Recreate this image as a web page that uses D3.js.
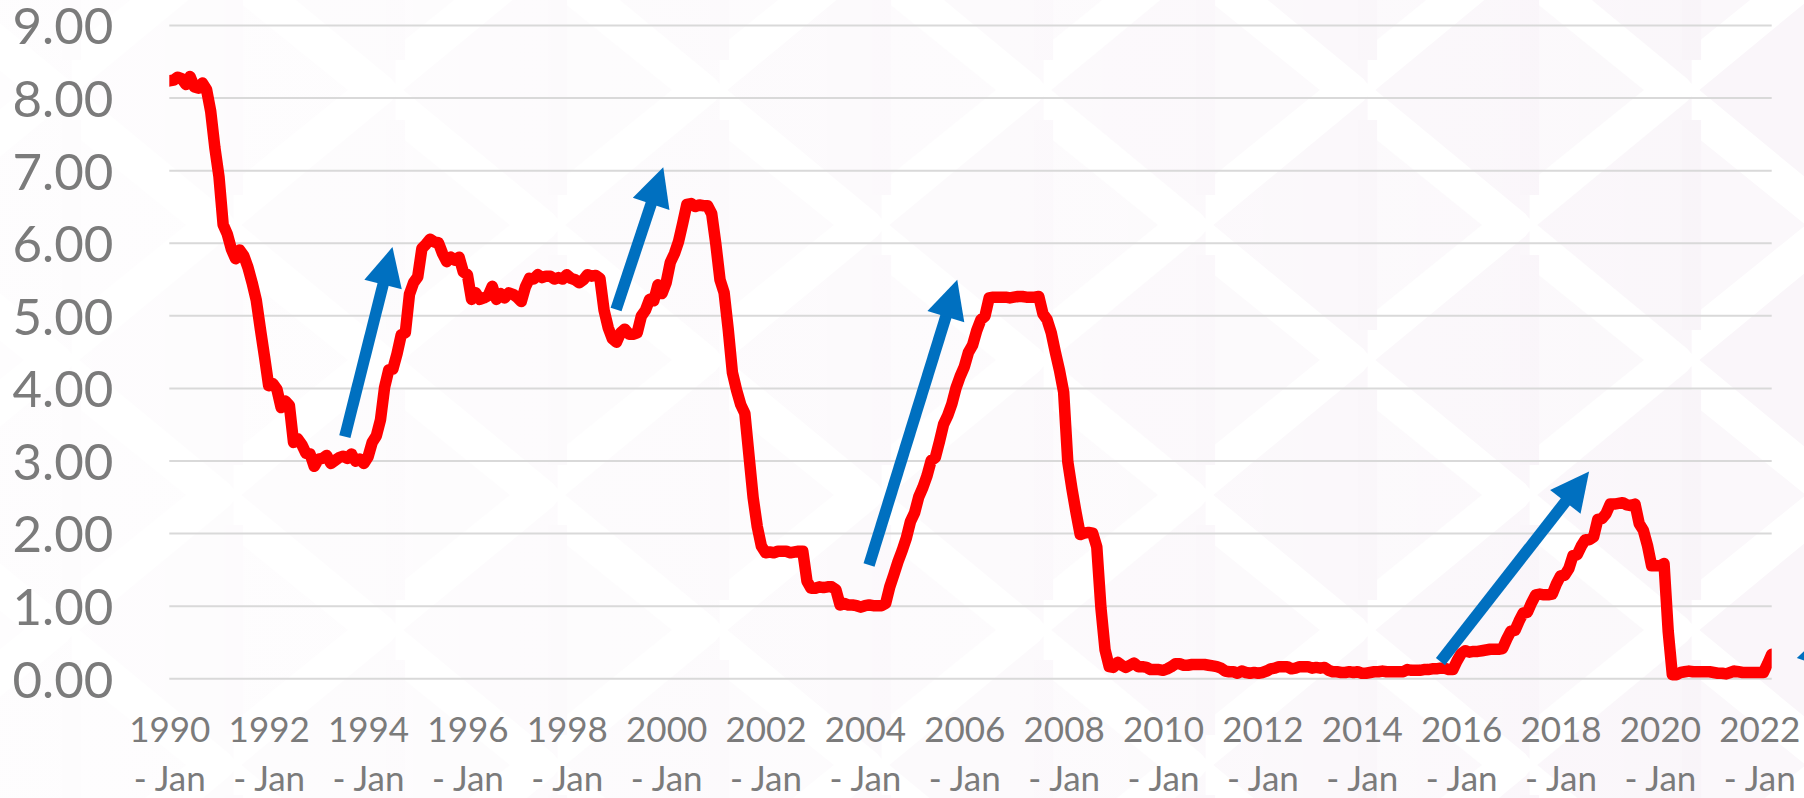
<!DOCTYPE html>
<html>
<head>
<meta charset="utf-8">
<script src="https://cdn.jsdelivr.net/npm/d3@7"></script>
<style>
html,body{margin:0;padding:0;background:#ffffff;}
svg{display:block;}
</style>
</head>
<body>
<svg id="chart" width="1804" height="798"></svg>
<script>
// ---------------- DATA ----------------
const startYear = 1990;           // first category: 1990 - Jan (monthly)
const monthLabel = "- Jan";
// monthly rate (%), 1990-01 .. 2022-04
const rate = [
  8.23, 8.24, 8.28, 8.26, 8.18, 8.29, 8.15, 8.13, 8.20, 8.11, 7.81, 7.31, // 1990
  6.91, 6.25, 6.12, 5.91, 5.78, 5.90, 5.82, 5.66, 5.45, 5.21, 4.81, 4.43, // 1991
  4.03, 4.06, 3.98, 3.73, 3.82, 3.76, 3.25, 3.30, 3.22, 3.10, 3.09, 2.92, // 1992
  3.02, 3.03, 3.07, 2.96, 3.00, 3.04, 3.06, 3.03, 3.09, 2.99, 3.02, 2.96, // 1993
  3.05, 3.25, 3.34, 3.56, 4.01, 4.25, 4.26, 4.47, 4.73, 4.76, 5.29, 5.45, // 1994
  5.53, 5.92, 5.98, 6.05, 6.01, 6.00, 5.85, 5.74, 5.80, 5.76, 5.80, 5.60, // 1995
  5.56, 5.22, 5.31, 5.22, 5.24, 5.27, 5.40, 5.22, 5.30, 5.24, 5.31, 5.29, // 1996
  5.25, 5.19, 5.39, 5.51, 5.50, 5.56, 5.52, 5.54, 5.54, 5.50, 5.52, 5.50, // 1997
  5.56, 5.51, 5.49, 5.45, 5.49, 5.56, 5.54, 5.55, 5.51, 5.07, 4.83, 4.68, // 1998
  4.63, 4.76, 4.81, 4.74, 4.74, 4.76, 4.99, 5.07, 5.22, 5.20, 5.42, 5.30, // 1999
  5.45, 5.73, 5.85, 6.02, 6.27, 6.53, 6.54, 6.50, 6.52, 6.51, 6.51, 6.40, // 2000
  5.98, 5.49, 5.31, 4.80, 4.21, 3.97, 3.77, 3.65, 3.07, 2.49, 2.09, 1.82, // 2001
  1.73, 1.74, 1.73, 1.75, 1.75, 1.75, 1.73, 1.74, 1.75, 1.75, 1.34, 1.24, // 2002
  1.24, 1.26, 1.25, 1.26, 1.26, 1.22, 1.01, 1.03, 1.01, 1.01, 1.00, 0.98, // 2003
  1.00, 1.01, 1.00, 1.00, 1.00, 1.03, 1.26, 1.43, 1.61, 1.76, 1.93, 2.16, // 2004
  2.28, 2.50, 2.63, 2.79, 3.00, 3.04, 3.26, 3.50, 3.62, 3.78, 4.00, 4.16, // 2005
  4.29, 4.49, 4.59, 4.79, 4.94, 4.99, 5.24, 5.25, 5.25, 5.25, 5.25, 5.24, // 2006
  5.25, 5.26, 5.26, 5.25, 5.25, 5.25, 5.26, 5.02, 4.94, 4.76, 4.49, 4.24, // 2007
  3.94, 2.98, 2.61, 2.28, 1.98, 2.00, 2.01, 2.00, 1.81, 0.97, 0.39, 0.16, // 2008
  0.15, 0.22, 0.18, 0.15, 0.18, 0.21, 0.16, 0.16, 0.15, 0.12, 0.12, 0.12, // 2009
  0.11, 0.13, 0.16, 0.20, 0.20, 0.18, 0.18, 0.19, 0.19, 0.19, 0.19, 0.18, // 2010
  0.17, 0.16, 0.14, 0.10, 0.09, 0.09, 0.07, 0.10, 0.08, 0.07, 0.08, 0.07, // 2011
  0.08, 0.10, 0.13, 0.14, 0.16, 0.16, 0.16, 0.13, 0.14, 0.16, 0.16, 0.16, // 2012
  0.14, 0.15, 0.14, 0.15, 0.11, 0.09, 0.09, 0.08, 0.08, 0.09, 0.08, 0.09, // 2013
  0.07, 0.07, 0.08, 0.09, 0.09, 0.10, 0.09, 0.09, 0.09, 0.09, 0.09, 0.12, // 2014
  0.11, 0.11, 0.11, 0.12, 0.12, 0.13, 0.13, 0.14, 0.14, 0.12, 0.12, 0.24, // 2015
  0.34, 0.38, 0.36, 0.37, 0.37, 0.38, 0.39, 0.40, 0.40, 0.40, 0.41, 0.54, // 2016
  0.65, 0.66, 0.79, 0.90, 0.91, 1.04, 1.15, 1.16, 1.15, 1.15, 1.16, 1.30, // 2017
  1.41, 1.42, 1.51, 1.69, 1.70, 1.82, 1.91, 1.91, 1.95, 2.19, 2.20, 2.27, // 2018
  2.40, 2.40, 2.41, 2.42, 2.39, 2.38, 2.40, 2.13, 2.04, 1.83, 1.55, 1.55, // 2019
  1.55, 1.58, 0.65, 0.05, 0.05, 0.08, 0.09, 0.10, 0.09, 0.09, 0.09, 0.09, // 2020
  0.09, 0.08, 0.07, 0.07, 0.06, 0.08, 0.10, 0.09, 0.08, 0.08, 0.08, 0.08, // 2021
  0.08, 0.08, 0.20, 0.33                                                  // 2022
];
const yTicks = [0, 1, 2, 3, 4, 5, 6, 7, 8, 9];
const xLabelEvery = 24; // months between category labels

// annotation arrows: [from month index, from value, to month index, to value]
const arrowFromIdx = [42.4, 107.9, 169.0, 307.0, 396.2];
const arrowFromVal = [3.33, 5.08, 1.56, 0.23, -0.01];
const arrowToIdx   = [53.9, 119.3, 190.3, 342.9, 400.6];
const arrowToVal   = [5.94, 7.04, 5.49, 2.85, 0.69];

// ---------------- LAYOUT / STYLE ----------------
const W = 1804, H = 798;
const plot = {left: 169.3, right: 1771.7, top: 25, bottom: 678.3};
const textColor = "#7b7b7b";
const fontFamily = "Lato, 'Open Sans', sans-serif";

const svg = d3.select("#chart");
const defs = svg.append("defs");

// background decoration (faint lattice of diamonds, fading towards the left)
const bg = svg.append("g");
bg.append("rect").attr("width", W).attr("height", H).attr("fill", "#ffffff");
const tileW = 324, tileH = 270, x0 = 71.6, yc0 = 225;
const centers = [];
for (let m = -2; m <= 14; m++) {
  for (let n = -3; n <= 8; n++) {
    if (((m + n) % 2 + 2) % 2 === 0) centers.push([x0 + m * tileW / 2, yc0 + n * tileH / 2]);
  }
}
const hw = tileW / 2, hh = tileH / 2, g = 6;
bg.selectAll("polygon.l").data(centers).join("polygon")
  .attr("points", d => [[d[0], d[1] - hh + g], [d[0] - 4, d[1] - hh + g + 5], [d[0] - hw + g * 1.3, d[1]], [d[0] - 4, d[1] + hh - g - 5], [d[0], d[1] + hh - g]].map(p => p.join(",")).join(" "))
  .attr("fill", "#faf6fa");
bg.selectAll("polygon.r").data(centers).join("polygon")
  .attr("points", d => [[d[0] + 4, d[1] - hh + g + 40], [d[0] + hw - g * 1.3 - 40, d[1]], [d[0] + 4, d[1] + hh - g - 40]].map(p => p.join(",")).join(" "))
  .attr("fill", "#fbf8fb");
bg.selectAll("rect.bar").data(centers).join("rect")
  .attr("x", d => d[0] - 9.5).attr("y", d => d[1] - hh + 30)
  .attr("width", 19).attr("height", tileH - 60)
  .attr("fill", "#f9f4f9");
const fade = defs.append("linearGradient").attr("id", "fade").attr("x1", 0).attr("x2", 1).attr("y1", 0).attr("y2", 0);
fade.append("stop").attr("offset", 0).attr("stop-color", "#ffffff").attr("stop-opacity", 0.75);
fade.append("stop").attr("offset", 0.55).attr("stop-color", "#ffffff").attr("stop-opacity", 0.45);
fade.append("stop").attr("offset", 1).attr("stop-color", "#ffffff").attr("stop-opacity", 0.0);
bg.append("rect").attr("width", W).attr("height", H).attr("fill", "url(#fade)");

// scales
const x = d3.scaleLinear().domain([0, rate.length - 1]).range([plot.left, plot.right]);
const y = d3.scaleLinear().domain([0, 9]).range([plot.bottom, plot.top]);

// y axis + gridlines
const gy = svg.append("g")
  .attr("transform", `translate(${plot.left},0)`)
  .call(d3.axisLeft(y).tickValues(yTicks).tickSize(-(plot.right - plot.left)).tickPadding(56).tickFormat(d3.format(".2f")));
gy.select(".domain").remove();
gy.selectAll(".tick line").attr("stroke", "#d9d9d9").attr("stroke-width", 2);
gy.selectAll(".tick text")
  .attr("fill", textColor).attr("dy", "0.37em")
  .style("font-family", fontFamily).style("font-size", "51px");

// x axis (category labels every 2 years)
const gx = svg.append("g")
  .attr("transform", `translate(0,${plot.bottom})`)
  .call(d3.axisBottom(x).tickValues(d3.range(0, rate.length, xLabelEvery)).tickSize(0).tickFormat(i => String(startYear + i / 12)));
gx.select(".domain").remove();
gx.selectAll(".tick text").each(function(i) {
  const t = d3.select(this);
  t.text(null).attr("y", null).attr("dy", null)
   .attr("fill", textColor)
   .style("font-family", fontFamily).style("font-size", "35px");
  t.append("tspan").attr("x", 0).attr("y", 63.4).text(String(startYear + i / 12));
  t.append("tspan").attr("x", 0).attr("y", 112.7).text(monthLabel);
});

// rate line
defs.append("clipPath").attr("id", "plotclip")
  .append("rect").attr("x", plot.left).attr("y", 0).attr("width", plot.right - plot.left).attr("height", H);
svg.append("path")
  .datum(rate)
  .attr("clip-path", "url(#plotclip)")
  .attr("fill", "none")
  .attr("stroke", "#ff0000")
  .attr("stroke-width", 11.5)
  .attr("stroke-linejoin", "round")
  .attr("stroke-linecap", "round")
  .attr("d", d3.line().x((d, i) => x(i)).y(d => y(d)));

// arrows
const headLen = 38.6, headHalf = 19.3, shaftW = 11.5, arrowColor = "#0070c0";
const ga = svg.append("g");
arrowFromIdx.forEach((fi, k) => {
  const x1 = x(fi), y1 = y(arrowFromVal[k]), x2 = x(arrowToIdx[k]), y2 = y(arrowToVal[k]);
  const dx = x2 - x1, dy = y2 - y1, L = Math.hypot(dx, dy), ux = dx / L, uy = dy / L;
  const bx = x2 - ux * headLen, by = y2 - uy * headLen;
  ga.append("line")
    .attr("x1", x1).attr("y1", y1).attr("x2", bx + ux * 2).attr("y2", by + uy * 2)
    .attr("stroke", arrowColor).attr("stroke-width", shaftW);
  ga.append("polygon")
    .attr("points", [[x2, y2], [bx + uy * headHalf, by - ux * headHalf], [bx - uy * headHalf, by + ux * headHalf]].map(p => p.join(",")).join(" "))
    .attr("fill", arrowColor);
});
</script>
</body>
</html>
